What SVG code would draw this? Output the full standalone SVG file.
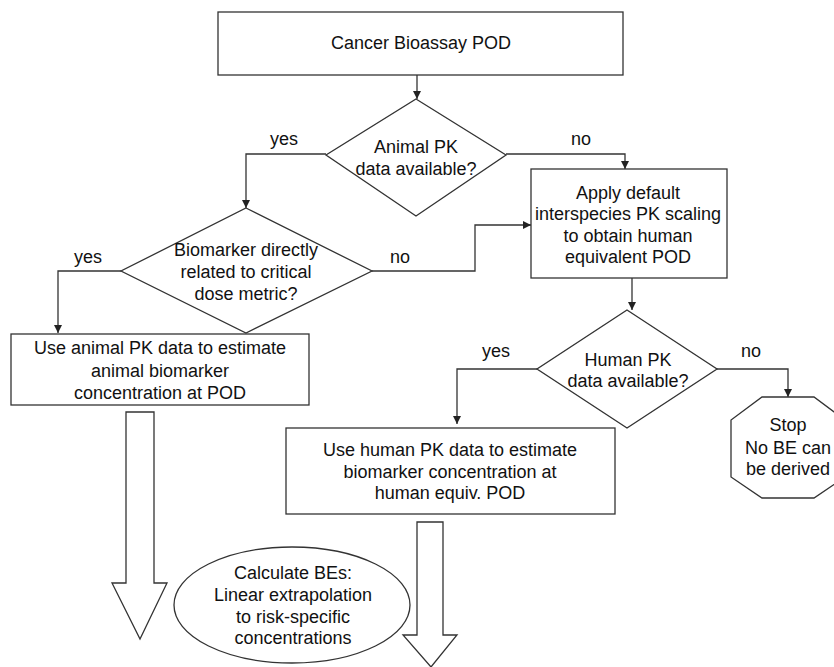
<svg xmlns="http://www.w3.org/2000/svg" width="834" height="667" viewBox="0 0 834 667">
<style>
.s{fill:#fff;stroke:#333;stroke-width:1.3}
.c{fill:none;stroke:#333;stroke-width:1.3}
text{font-family:"Liberation Sans",Arial,sans-serif;font-size:18px;fill:#111;text-anchor:middle}
</style>
<defs>
<marker id="ah" viewBox="0 0 10 10" refX="10" refY="5" markerWidth="8" markerHeight="8" markerUnits="userSpaceOnUse" orient="auto">
<path d="M0,0 L10,5 L0,10 Z" fill="#222"/>
</marker>
</defs>
<rect width="834" height="667" fill="#fff"/>
<g id="connectors">
<path class="c" d="M417,75 V99" marker-end="url(#ah)"/>
<path class="c" d="M326,154 H246 V208" marker-end="url(#ah)"/>
<path class="c" d="M506,154 H625 V169" marker-end="url(#ah)"/>
<path class="c" d="M121,271 H58 V333" marker-end="url(#ah)"/>
<path class="c" d="M372,271 H475 V225 H531" marker-end="url(#ah)"/>
<path class="c" d="M632,278 V310" marker-end="url(#ah)"/>
<path class="c" d="M537,369 H457 V424" marker-end="url(#ah)"/>
<path class="c" d="M717,369 H788 V397" marker-end="url(#ah)"/>
<polygon class="s" points="126,412 154,412 154,583 167,583 140,639 112,583 126,583"/>
<polygon class="s" points="417,522 443,522 443,635 457,635 431,667 403,635 417,635"/>
<text x="284" y="145">yes</text>
<text x="581" y="145">no</text>
<text x="88" y="263">yes</text>
<text x="400" y="263">no</text>
<text x="496" y="357">yes</text>
<text x="751" y="357">no</text>
</g>
<g id="n-top">
<rect class="s" x="218" y="12" width="405" height="63"/>
<text x="421" y="49">Cancer Bioassay POD</text>
</g>
<g id="n-animal-pk">
<polygon class="s" points="416,99 506,155 416,216 326,155"/>
<text x="416" y="153">Animal PK</text>
<text x="416" y="175">data available?</text>
</g>
<g id="n-apply">
<rect class="s" x="531" y="169" width="196" height="109"/>
<text x="628" y="199">Apply default</text>
<text x="628" y="220">interspecies PK scaling</text>
<text x="628" y="242">to obtain human</text>
<text x="628" y="263">equivalent POD</text>
</g>
<g id="n-biomarker">
<polygon class="s" points="246,208 372,271 246,333 121,271"/>
<text x="246" y="256">Biomarker directly</text>
<text x="246" y="278">related to critical</text>
<text x="246" y="300">dose metric?</text>
</g>
<g id="n-use-animal">
<rect class="s" x="11" y="334" width="298" height="71"/>
<text x="160" y="354">Use animal PK data to estimate</text>
<text x="160" y="377">animal biomarker</text>
<text x="160" y="399">concentration at POD</text>
</g>
<g id="n-human-pk">
<polygon class="s" points="627,310 717,369 627,428 537,369"/>
<text x="628" y="366">Human PK</text>
<text x="628" y="387">data available?</text>
</g>
<g id="n-stop">
<polygon class="s" points="762,397 814,397 845,420 845,477 814,498 762,498 731,477 731,420"/>
<text x="788" y="431">Stop</text>
<text x="788" y="454">No BE can</text>
<text x="788" y="475">be derived</text>
</g>
<g id="n-use-human">
<rect class="s" x="286" y="428" width="329" height="86"/>
<text x="450" y="456">Use human PK data to estimate</text>
<text x="450" y="478">biomarker concentration at</text>
<text x="450" y="499">human equiv. POD</text>
</g>
<g id="n-calc">
<ellipse class="s" cx="292" cy="605" rx="118" ry="58"/>
<text x="293" y="579">Calculate BEs:</text>
<text x="293" y="601">Linear extrapolation</text>
<text x="293" y="623">to risk-specific</text>
<text x="293" y="644">concentrations</text>
</g>
</svg>
